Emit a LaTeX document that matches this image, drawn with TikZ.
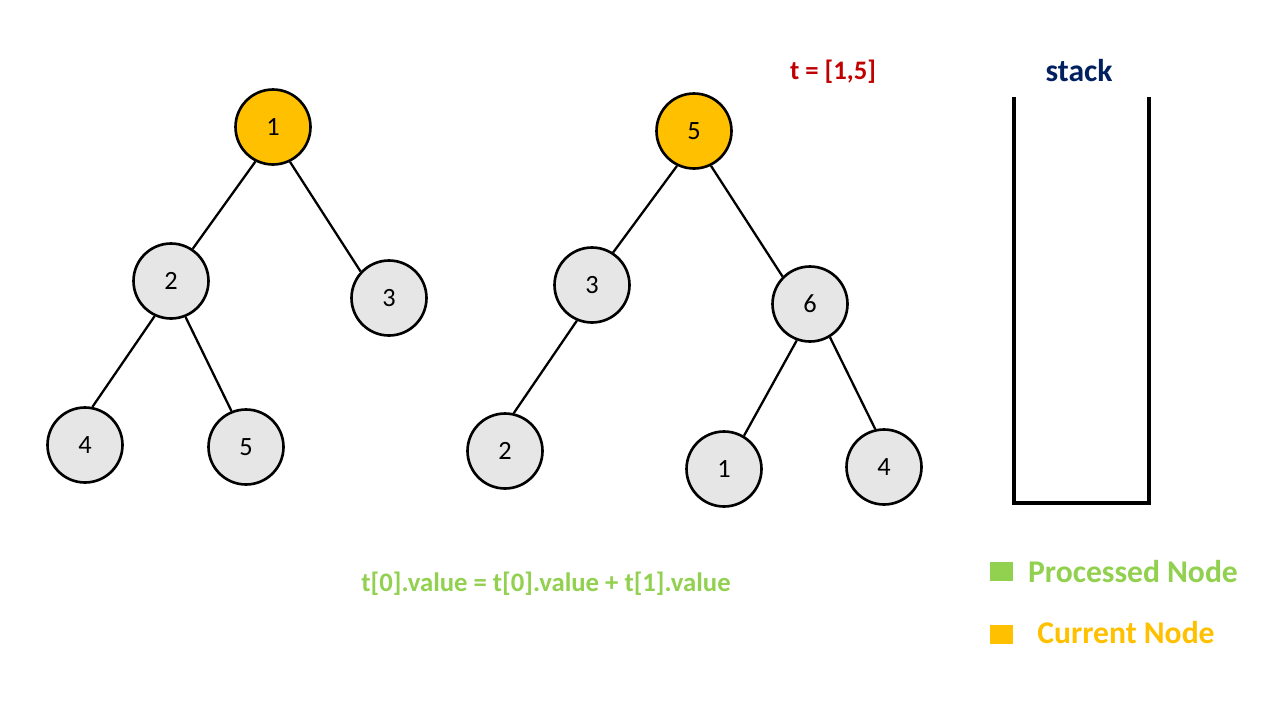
\documentclass[tikz,border=0pt]{standalone}
\usepackage{fontspec}
\setmainfont{Carlito}
\definecolor{curorange}{HTML}{FFC000}
\definecolor{procgreen}{HTML}{92D050}
\definecolor{nodegray}{HTML}{E6E6E6}
\definecolor{tred}{HTML}{C00000}
\definecolor{stackblue}{HTML}{002060}
\begin{document}
\begin{tikzpicture}[x=0.02cm,y=-0.02cm,
  tnode/.style={circle,draw=black,line width=1.5pt,fill=nodegray,minimum size=1.5cm,inner sep=0pt,font=\fontsize{15}{17}\selectfont},
  curnode/.style={tnode,fill=curorange},
  edge/.style={line width=1.3pt},
  wall/.style={line width=1.8pt,line cap=rect},
  label/.style={font=\bfseries\fontsize{15.2}{17}\selectfont,inner sep=0pt},
  biglabel/.style={label,font=\bfseries\fontsize{18}{20}\selectfont},
  keybox/.style={minimum width=0.46cm,minimum height=0.38cm,inner sep=0pt}]
\useasboundingbox (0,0) rectangle (1280,720);

% first tree
\node[curnode] (a1) at (273,127) {1};
\node[tnode] (a2) at (171,281) {2};
\node[tnode] (a3) at (389,298) {3};
\node[tnode] (a4) at (85,445) {4};
\node[tnode] (a5) at (246,447) {5};
\draw[edge] (a1.243) -- (a2.56);
\draw[edge] (a1.296) -- (a3.137);
\draw[edge] (a2.245) -- (a4.79);
\draw[edge] (a2.292) -- (a5.112);

% second tree
\node[curnode] (b5) at (694,131) {5};
\node[tnode] (b3) at (592,285) {3};
\node[tnode] (b6) at (810,304) {6};
\node[tnode] (b2) at (505,451) {2};
\node[tnode] (b1) at (724,469) {1};
\node[tnode] (b4) at (884,467) {4};
\draw[edge] (b5.244) -- (b3.57);
\draw[edge] (b5.296) -- (b6.135);
\draw[edge] (b3.247) -- (b2.77);
\draw[edge] (b6.250) -- (b1.59);
\draw[edge] (b6.301) -- (b4.103);

% stack container
\coordinate (sTL) at (1014,99);
\coordinate (sBL) at (1014,503);
\coordinate (sBR) at (1149,503);
\coordinate (sTR) at (1149,99);
\draw[wall] (sTL) -- (sBL) -- (sBR) -- (sTR);
\node[biglabel,text=stackblue] (stk) at (1079,71) {stack};

% pair and update rule
\node[label,text=tred] (pair) at (833,72) {t = [1,5]};
\node[label,text=procgreen] (rule) at (546,584) {t[0].value = t[0].value + t[1].value};

% legend
\node[keybox,fill=procgreen] (kp) at (1001,571) {};
\node[biglabel,text=procgreen] (kpt) at (1133,572) {Processed Node};
\node[keybox,fill=curorange] (kc) at (1001,634) {};
\node[biglabel,text=curorange] (kct) at (1126,633) {Current Node};
\end{tikzpicture}
\end{document}
